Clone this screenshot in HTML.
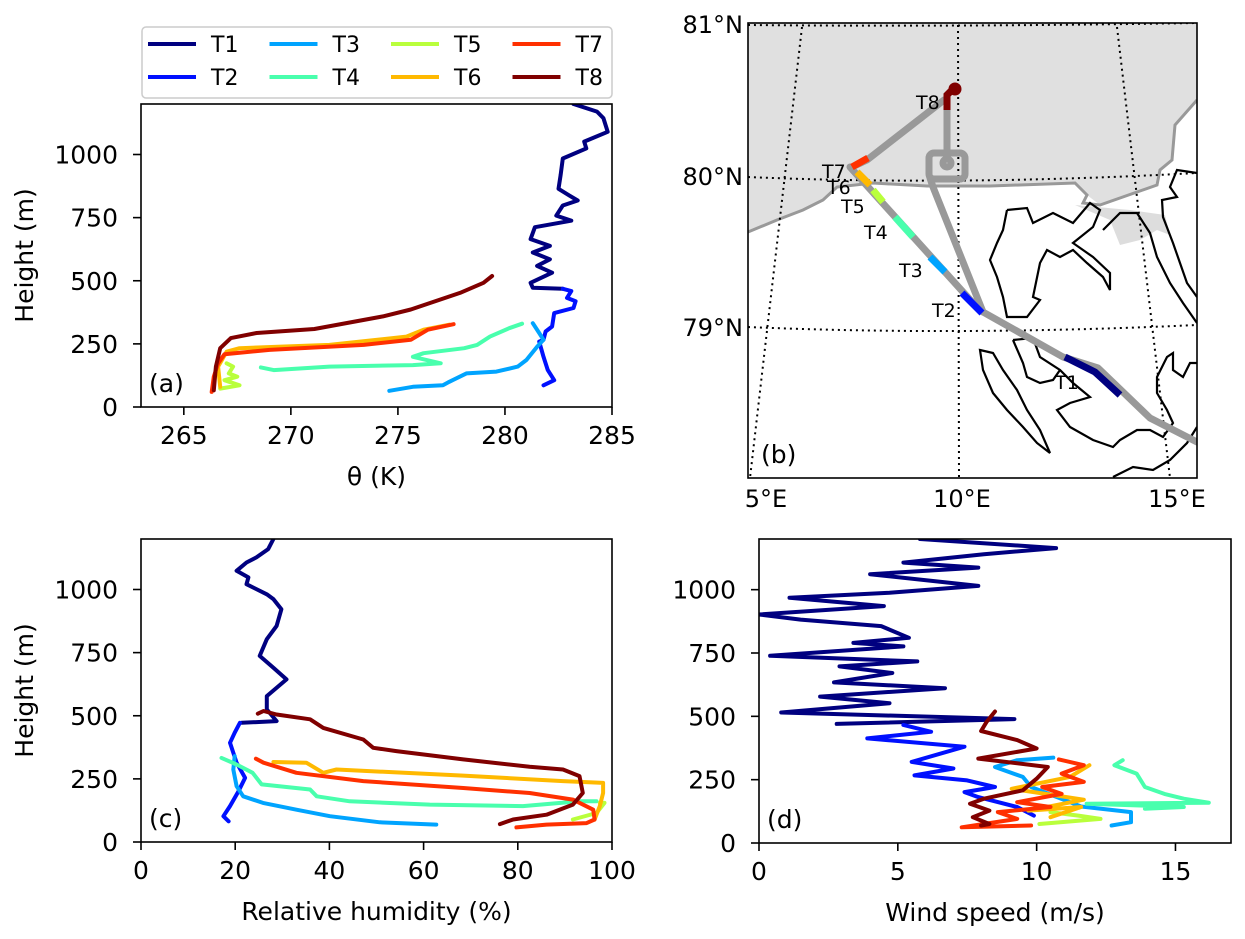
<!DOCTYPE html>
<html><head><meta charset="utf-8"><style>
html,body{margin:0;padding:0;background:#fff;}
svg{display:block;font-family:"DejaVu Sans","Liberation Sans",sans-serif;}
</style></head><body>
<svg id="fig" width="1245" height="939" viewBox="0 0 1245 939">
<rect width="1245" height="939" fill="#fff"/>
<g id="mapg">
  <clipPath id="mclip"><rect x="748" y="23" width="449" height="455"/></clipPath>
  <g clip-path="url(#mclip)">
    <polygon fill="#e0e0e0" points="748,23 1197,23 1197,100 1175,125 1172,160 1160,170 1157,185 1100,205 1087,195 1075,183 990,186 927,186 873,183 837,187 823,200 803,210 777,220 748,232"/>
    <polyline fill="none" stroke="#999" stroke-width="3" points="748,232 777,220 803,210 823,200 837,187 873,183 927,186 990,186 1075,183 1087,195 1083,203 1100,205 1157,185 1160,170 1172,160 1175,125 1197,100"/>
    <polygon fill="#ddd" points="1075,205 1110,220 1120,245 1140,240 1157,230 1170,235 1165,215 1130,210"/>
    <g fill="none" stroke="#000" stroke-width="2.2">
      <polyline points="1007,210 1027,208 1033,223 1053,213 1073,223 1090,203 1100,210 1093,227 1073,243 1093,257 1110,273 1110,290 1103,277 1087,263 1073,250 1060,257 1047,250 1040,263 1033,297 1040,300 1027,317 1007,317 1003,297 997,277 990,260 997,243 1003,230 1007,210"/>
      <polyline points="1103,230 1120,213 1137,213 1150,233 1157,257 1170,283 1183,303 1197,323"/>
      <polyline points="1197,173 1177,170 1170,187 1177,197 1162,200 1163,217 1173,243 1180,263 1187,283 1197,297"/>
      <polygon points="980,350 993,353 1003,370 1017,390 1027,410 1040,430 1050,453 1037,443 1023,427 1007,410 993,393 983,370"/>
      <polyline points="1013,340 1033,338 1040,357 1060,370 1073,383 1090,397 1070,403 1057,410 1070,427 1093,440 1113,447 1120,440 1137,430 1150,430 1163,437 1173,423 1167,410 1157,393 1157,377 1167,357 1173,353 1173,370 1183,377 1190,363 1197,363"/>
      <polyline points="1013,340 1023,363 1027,377 1040,383 1053,380 1060,370"/>
      <polyline points="1197,427 1187,443 1170,460 1153,470 1133,467 1113,477"/>
    </g>
    <g fill="none" stroke="#000" stroke-width="2" stroke-dasharray="2,4">
      <path d="M748,25 Q958,27 1197,23"/>
      <path d="M748,177 Q958,186 1197,173"/>
      <path d="M748,327 Q958,336 1197,325"/>
      <path d="M802,27 L750,478"/>
      <path d="M958,25 L959,478"/>
      <path d="M1117,27 L1170,478"/>
    </g>
    <g fill="none" stroke="#999" stroke-width="7" stroke-linecap="round" stroke-linejoin="round">
      <polyline points="1197,442 1150,418 1098,368 1063,357 983,312 973,303 850,167"/>
      <polyline points="983,312 933,187 930,178"/>
      <rect x="929" y="153" width="36" height="26" rx="5"/>
      <polyline points="947,153 947,100"/>
      <polyline points="944,100 867,160 852,167"/>
      <circle cx="947" cy="163" r="4"/>
    </g>
    <g fill="none" stroke-width="7" stroke-linecap="butt">
      <polyline stroke="#000080" points="1065,357 1095,372 1120,395"/>
      <polyline stroke="#0010ff" points="962,293 982,313"/>
      <polyline stroke="#00a4ff" points="930,257 945,272"/>
      <polyline stroke="#49ffad" points="895,217 913,237"/>
      <polyline stroke="#b9ff3c" points="873,190 883,202"/>
      <polyline stroke="#ffb900" points="857,172 870,185"/>
      <polyline stroke="#ff3000" points="852,167 868,158"/>
      <polyline stroke="#800000" points="947,110 947,95 955,87"/>
      <circle cx="955" cy="89" r="5" fill="#800000" stroke="#800000" stroke-width="3"/>
    </g>
    <g font-size="19" fill="#000">
      <text x="916" y="109">T8</text><text x="822" y="178">T7</text><text x="827" y="194">T6</text>
      <text x="841" y="213">T5</text><text x="864" y="239">T4</text><text x="899" y="277">T3</text>
      <text x="932" y="317">T2</text><text x="1055" y="389">T1</text>
    </g>
    <text x="761" y="463" font-size="25">(b)</text>
  </g>
  <rect x="748" y="23" width="449" height="455" fill="none" stroke="#000" stroke-width="1.6"/>
  <g font-size="24" fill="#000" text-anchor="end">
    <text x="743" y="33">81°N</text><text x="743" y="185">80°N</text><text x="743" y="336">79°N</text>
  </g>
  <g font-size="24" fill="#000" text-anchor="middle">
    <text x="766" y="507">5°E</text><text x="962" y="507">10°E</text><text x="1177" y="507">15°E</text>
  </g>
</g>
<g id="plots"></g>
</svg>
<script>
const seriesNames = ["T1","T2","T3","T4","T5","T6","T7","T8"];
const seriesColors = ["#000080","#0010ff","#00a4ff","#49ffad","#b9ff3c","#ffb900","#ff3000","#800000"];
const thetaTicks = [265,270,275,280,285];
const rhTicks = [0,20,40,60,80,100];
const windTicks = [0,5,10,15];
const heightTicks = [0,250,500,750,1000];
// Panel a: [theta K, height m]
const thetaT1 = [[283.2,1200],[284.3,1170],[284.6,1144],[284.8,1090],[283.7,1051],[283.8,1024],[282.7,984],[282.6,918],[282.5,864],[283.0,838],[283.4,818],[282.7,798],[282.4,758],[283.1,738],[281.4,712],[281.2,665],[282.1,638],[281.3,612],[282.1,585],[281.5,559],[282.2,532],[281.2,492],[281.3,472],[282.7,468]];
const thetaT2 = [[282.7,468],[283.1,459],[282.9,432],[283.3,419],[283.2,392],[282.3,372],[282.2,319],[281.9,299],[281.8,266],[281.6,259],[281.8,199],[282.0,146],[282.3,106],[281.8,86]];
const thetaT3 = [[281.3,332],[281.6,293],[281.8,266],[281.5,239],[281.0,186],[280.6,160],[279.6,140],[278.2,133],[277.4,100],[277.1,86],[275.7,80],[274.6,64]];
const thetaT4 = [[280.8,330],[280.2,312],[279.3,279],[278.7,246],[278.1,233],[276.2,213],[275.7,199],[277.0,173],[275.7,166],[271.8,160],[269.2,146],[268.6,157]];
const thetaT5 = [[267.0,173],[267.3,160],[267.1,133],[267.5,120],[266.9,106],[267.6,86],[266.7,73]];
const thetaT6 = [[266.7,80],[266.6,160],[267.0,219],[267.6,233],[271.8,246],[275.4,279],[276.2,306],[277.4,326]];
const thetaT7 = [[266.3,60],[266.4,120],[266.6,173],[266.9,209],[269.0,226],[273.4,246],[275.6,266],[276.4,306],[277.6,328]];
const thetaT8 = [[266.4,66],[266.5,160],[266.7,233],[267.2,273],[268.4,293],[271.1,309],[274.3,359],[275.6,386],[277.9,452],[279.0,492],[279.4,519]];
// Panel c: [RH %, height m]
const rhT1 = [[28.1,1200],[27.0,1160],[24.5,1127],[22.4,1107],[20.3,1074],[22.8,1048],[22.4,1021],[26.7,981],[28.1,962],[29.8,922],[28.8,856],[26.7,803],[25.2,737],[28.1,690],[30.9,644],[26.7,578],[26.7,525],[28.8,479],[21.4,472]];
const rhT2 = [[21.0,472],[19.9,433],[18.9,393],[20.3,314],[22.1,254],[20.7,201],[18.9,142],[17.5,102],[18.6,82]];
const rhT3 = [[19.9,340],[19.6,287],[20.3,221],[21.7,181],[25.9,155],[33.0,128],[40.1,102],[50.7,78],[62.7,69]];
const rhT4 = [[17.1,333],[20.3,307],[23.7,274],[25.6,228],[35.9,208],[37.3,181],[44.3,161],[61.3,148],[81.1,142],[93.1,161],[96.7,161]];
const rhT5 = [[97.4,155],[98.4,155],[96.7,115],[91.7,89]];
const rhT6 = [[28.1,317],[35.1,314],[38.7,274],[41.5,287],[68.4,263],[89.6,241],[98.1,234],[98.1,194],[97.4,142],[96.3,89]];
const rhT7 = [[24.4,330],[26.0,314],[33.0,274],[47.2,241],[68.4,214],[82.5,194],[91.7,168],[96.0,128],[96.3,89],[94.6,75],[86.1,69],[79.7,58]];
const rhT8 = [[24.8,508],[26.0,519],[28.8,505],[35.9,486],[38.7,452],[47.2,406],[49.3,373],[54.2,360],[68.4,327],[82.5,298],[89.6,287],[93.1,261],[93.8,194],[91.7,148],[86.1,108],[79.0,89],[76.2,71]];
// Panel d: [wind m/s, height m]
const windT1 = [[5.8,1200],[10.7,1164],[8.1,1140],[5.2,1107],[7.9,1087],[4.0,1061],[7.9,1015],[4.7,988],[1.1,968],[4.5,935],[0.0,902],[1.5,882],[4.4,856],[5.4,810],[3.4,790],[5.2,776],[0.4,739],[5.7,717],[2.9,697],[4.8,671],[2.7,634],[6.7,611],[2.2,578],[4.7,552],[0.8,515],[9.2,489],[2.8,470]];
const windT2 = [[5.2,466],[6.2,439],[3.9,413],[7.4,380],[5.5,320],[7.0,294],[5.6,267],[7.5,247],[8.5,221],[7.4,201],[7.9,181],[9.3,142],[9.9,108]];
const windT3 = [[10.6,337],[9.3,327],[8.5,300],[9.5,261],[9.8,221],[11.6,144],[13.4,122],[13.4,82],[12.7,69]];
const windT4 = [[13.1,327],[12.8,307],[13.6,274],[13.9,221],[14.6,194],[15.3,175],[16.2,159],[11.8,155],[15.3,142],[13.9,135]];
const windT5 = [[10.5,122],[11.5,108],[12.3,95],[10.1,75]];
const windT6 = [[11.9,307],[11.2,261],[9.1,214],[11.7,171],[9.7,128],[11.6,142],[10.5,102]];
const windT7 = [[10.8,330],[11.7,307],[10.9,274],[11.7,241],[10.2,221],[10.9,194],[9.3,161],[10.5,142],[8.6,122],[9.3,95],[7.3,62],[9.8,69]];
const windT8 = [[8.5,519],[8.2,479],[8.0,442],[9.3,406],[10.0,373],[7.9,333],[10.4,300],[10.0,254],[9.5,208],[8.1,175],[7.6,155],[8.3,128],[7.7,102],[8.3,75],[8.0,69]];

const NS = "http://www.w3.org/2000/svg";
const root = document.getElementById("plots");
function mk(tag, attrs, parent){const e=document.createElementNS(NS,tag);for(const k in attrs)e.setAttribute(k,attrs[k]);(parent||root).appendChild(e);return e;}

function panel(cfg){
  const g = mk("g",{});
  
  
  const sx = v => cfg.x0 + (v-cfg.xmin)/(cfg.xmax-cfg.xmin)*(cfg.x1-cfg.x0);
  const sy = h => cfg.y0 - (h-0)/1200*(cfg.y0-cfg.y1);
  const clipId = cfg.name+"-clip";
  const cp = mk("clipPath",{id:clipId},g);
  mk("rect",{x:cfg.x0,y:cfg.y1,width:cfg.x1-cfg.x0,height:cfg.y0-cfg.y1},cp);
  const lines = mk("g",{"clip-path":"url(#"+clipId+")"},g);
  cfg.series.forEach((s,i)=>{
    const p = mk("polyline",{points:s.map(d=>sx(d[0]).toFixed(1)+","+sy(d[1]).toFixed(1)).join(" "),fill:"none",stroke:seriesColors[i],"stroke-width":4,"stroke-linejoin":"round","stroke-linecap":"round"},lines);
    
    
  });
  const fr = mk("rect",{x:cfg.x0,y:cfg.y1,width:cfg.x1-cfg.x0,height:cfg.y0-cfg.y1,fill:"none",stroke:"#000","stroke-width":1.6},g);
  
  
  cfg.xticks.forEach(t=>{
    const x=sx(t);
    mk("line",{x1:x,x2:x,y1:cfg.y0,y2:cfg.y0+8,stroke:"#000","stroke-width":1.6},g);
    const tx = mk("text",{x:x,y:cfg.y0+37,"font-size":25,"text-anchor":"middle"},g);
    tx.textContent=t;
    
    
  });
  heightTicks.forEach(t=>{
    const y=sy(t);
    mk("line",{x1:cfg.x0-8,x2:cfg.x0,y1:y,y2:y,stroke:"#000","stroke-width":1.6},g);
    const tx = mk("text",{x:cfg.x0-23,y:y+9,"font-size":25,"text-anchor":"end"},g);
    tx.textContent=t;
    
    
  });
  const xt = mk("text",{x:(cfg.x0+cfg.x1)/2,y:cfg.y0+78,"font-size":25,"text-anchor":"middle"},g);
  xt.textContent=cfg.xlabel;
  
  
  if(cfg.ylabel){
    const cy=(cfg.y0+cfg.y1)/2;
    const yt = mk("text",{x:33,y:cy,"font-size":25,"text-anchor":"middle",transform:"rotate(-90 33 "+cy+")"},g);
    yt.textContent=cfg.ylabel;
    
    
  }
  const pl = mk("text",{x:cfg.x0+8,y:cfg.y0-15,"font-size":25},g);
  pl.textContent=cfg.label;
  
  
}
panel({name:"theta-panel-a",x0:141,x1:612,y0:407,y1:104,xmin:263,xmax:285,xticks:thetaTicks,xlabel:"θ (K)",ylabel:"Height (m)",label:"(a)",
  series:[thetaT1,thetaT2,thetaT3,thetaT4,thetaT5,thetaT6,thetaT7,thetaT8]});
panel({name:"rh-panel-c",x0:141,x1:612,y0:842,y1:539,xmin:0,xmax:100,xticks:rhTicks,xlabel:"Relative humidity (%)",ylabel:"Height (m)",label:"(c)",
  series:[rhT1,rhT2,rhT3,rhT4,rhT5,rhT6,rhT7,rhT8]});
panel({name:"wind-panel-d",x0:759,x1:1231,y0:843,y1:539,xmin:0,xmax:17,xticks:windTicks,xlabel:"Wind speed (m/s)",ylabel:null,label:"(d)",
  series:[windT1,windT2,windT3,windT4,windT5,windT6,windT7,windT8]});

// legend
const lg = mk("g",{});


mk("rect",{x:142,y:27,width:470,height:71,rx:4,fill:"#fff",stroke:"#ccc","stroke-width":1.5},lg);
seriesNames.forEach((n,i)=>{
  const col=Math.floor(i/2), row=i%2;
  const x=148+121.5*col, y=44+33*row;
  const e = mk("g",{},lg);
  
  
  mk("line",{x1:x,x2:x+48,y1:y,y2:y,stroke:seriesColors[i],"stroke-width":4},e);
  const t = mk("text",{x:x+63,y:y+8,"font-size":22},e);
  t.textContent=n;
});
</script>
</body></html>
